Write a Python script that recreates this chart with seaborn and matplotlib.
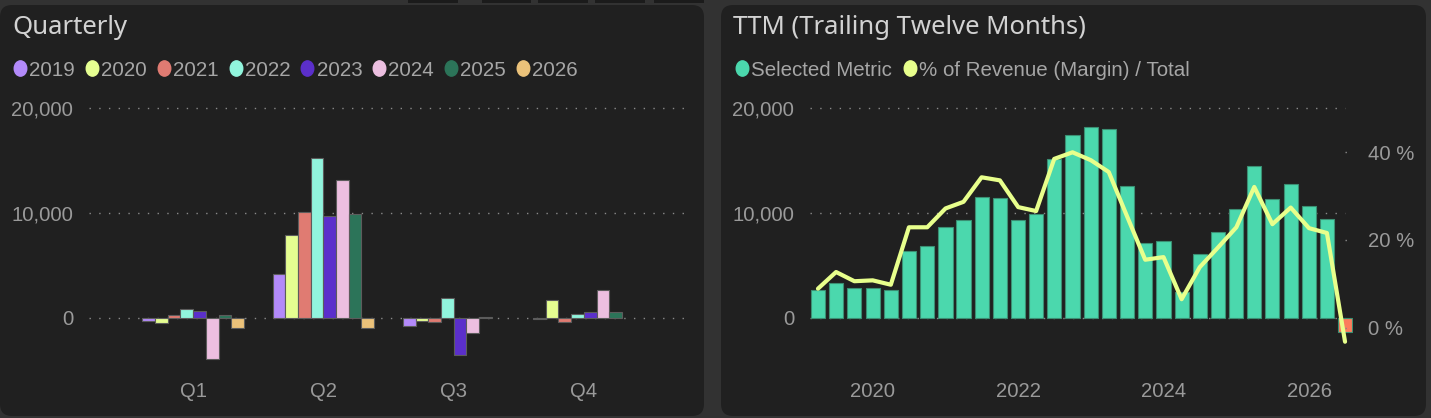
import numpy as np
import pandas as pd
import matplotlib
matplotlib.use("Agg")
import matplotlib.pyplot as plt
import matplotlib.dates as mdates
from matplotlib.patches import FancyBboxPatch, Rectangle
from matplotlib.lines import Line2D
from matplotlib.path import Path
from matplotlib.transforms import Affine2D
import matplotlib.ticker as mticker
import seaborn as sns

# ---------------- data ----------------
quarters = ["Q1", "Q2", "Q3", "Q4"]
years = ["2019", "2020", "2021", "2022", "2023", "2024", "2025", "2026"]
q_2019 = [-280, 4150, -790, -150]
q_2020 = [-480, 7870, -345, 1660]
q_2021 = [230, 10070, -440, -440]
q_2022 = [860, 15225, 1850, 380]
q_2023 = [640, 9740, -3565, 510]
q_2024 = [-3915, 13120, -1490, 2675]
q_2025 = [230, 9935, 60, 545]
q_2026 = [-1010, -955, None, None]
year_colors = ["#b38afa", "#e5fe91", "#e07b72", "#91f5dd",
               "#5b2fcb", "#ecbfe0", "#2c7459", "#ebc27a"]

ttm_dates = ["2019-03-31", "2019-06-30", "2019-09-30", "2019-12-31",
             "2020-03-31", "2020-06-30", "2020-09-30", "2020-12-31",
             "2021-03-31", "2021-06-30", "2021-09-30", "2021-12-31",
             "2022-03-31", "2022-06-30", "2022-09-30", "2022-12-31",
             "2023-03-31", "2023-06-30", "2023-09-30", "2023-12-31",
             "2024-03-31", "2024-06-30", "2024-09-30", "2024-12-31",
             "2025-03-31", "2025-06-30", "2025-09-30", "2025-12-31",
             "2026-03-31", "2026-06-30"]
ttm_values = [2645, 3280, 2870, 2805, 2645, 6370, 6815, 8630, 9300, 11500,
              11400, 9300, 9935, 15130, 17420, 18245, 18020, 12550, 7165, 7295,
              2500, 6085, 8185, 10350, 14460, 11310, 12770, 10670, 9430, -1395]
margin_pct = [8.9, 12.7, 10.6, 10.8, 9.8, 22.9, 22.9, 27.2, 28.7, 34.3,
              33.6, 27.5, 26.6, 38.5, 40.0, 38.2, 35.5, 25.5, 15.5, 16.1,
              6.5, 13.8, 18.3, 22.9, 32.1, 23.6, 27.4, 22.7, 21.6, -3.2]

# ---------------- style ----------------
W, H = 1431, 418
OUTER = "#323232"
PANEL = "#202020"
TITLE_C = "#d2d2d2"
TEXT_C = "#a6a6a6"
TICK_C = "#9a9a9a"
GRID_C = "#8a8a8a"
TICK_FONT = "Liberation Sans"
TITLE_FONT = "Noto Sans"
FS = 14.6
LFS = 14.8

plt.rcParams["font.family"] = [TICK_FONT, "DejaVu Sans"]

fig = plt.figure(figsize=(W / 100, H / 100), dpi=100)
fig.patch.set_facecolor(OUTER)

# panels (inches transform keeps corners round)
for (x0, x1) in [(0, 704), (721, 1426)]:
    y0, y1 = 5, 416
    p = FancyBboxPatch((x0 / 100, (H - y1) / 100), (x1 - x0) / 100, (y1 - y0) / 100,
                       boxstyle="round,pad=0,rounding_size=0.12",
                       transform=fig.dpi_scale_trans, facecolor=PANEL,
                       edgecolor="none", zorder=-10)
    fig.patches.append(p)
for (x0, x1) in [(408, 458), (482, 531), (538, 588), (595, 645), (654, 704)]:
    r = Rectangle((x0 / 100, (H - 3) / 100), (x1 - x0) / 100, 0.03,
                  transform=fig.dpi_scale_trans, facecolor="#1b1b1b",
                  edgecolor="none", zorder=-10)
    fig.patches.append(r)


def px_axes(x0, x1, y0, y1):
    a = fig.add_axes([x0 / W, 1 - y1 / H, (x1 - x0) / W, (y1 - y0) / H])
    a.set_zorder(2)
    return a


def style_ax(ax):
    ax.set_facecolor("none")
    for s in ax.spines.values():
        s.set_visible(False)
    ax.tick_params(length=0, labelsize=FS, labelcolor=TICK_C)
    ax.set_xlabel("")
    ax.set_ylabel("")


grid_ls = (0, (1, 6))
AX_TOP, AX_BOT = 95, 375
Y0PX, PX_PER_10K = 317.7, 104.7
ylo = (Y0PX - AX_BOT) / PX_PER_10K * 10000
yhi = (Y0PX - AX_TOP) / PX_PER_10K * 10000

# ---------------- left: quarterly ----------------
ax1 = px_axes(89, 688, AX_TOP, AX_BOT)
series = [q_2019, q_2020, q_2021, q_2022, q_2023, q_2024, q_2025, q_2026]
rows = []
for yr, vals in zip(years, series):
    for q, v in zip(quarters, vals):
        if v is not None:
            rows.append({"quarter": q, "year": yr, "value": v})
df1 = pd.DataFrame(rows)
for y in [0, 10000, 20000]:
    ax1.axhline(y, color=GRID_C, lw=1.0, ls=grid_ls, zorder=0)
sns.barplot(data=df1, x="quarter", y="value", hue="year", order=quarters,
            hue_order=years, palette=year_colors, width=0.78, errorbar=None,
            saturation=1, edgecolor="#5c5c5c", linewidth=0.8, legend=False,
            ax=ax1, zorder=2)
ax1.set_xlim(-0.8, 3.8)
ax1.set_ylim(ylo, yhi)
ax1.set_yticks([0, 10000, 20000])
ax1.yaxis.set_major_formatter(mticker.FuncFormatter(lambda v, p: f"{v:,.0f}"))
style_ax(ax1)
ax1.tick_params(axis="y", pad=11.5)
ax1.tick_params(axis="x", pad=5)

# ---------------- right: TTM ----------------
RX0, RX1 = 810, 1353
ax = px_axes(RX0, RX1, AX_TOP, AX_BOT)
dnum = mdates.date2num(pd.to_datetime(ttm_dates))
df2 = pd.DataFrame({"x": dnum, "value": ttm_values,
                    "sign": ["pos" if v >= 0 else "neg" for v in ttm_values],
                    "pct": margin_pct})
gx = (1345 - RX0) / (RX1 - RX0)
for y in [0, 10000, 20000]:
    ax.axhline(y, xmin=0, xmax=gx, color=GRID_C, lw=1.0, ls=grid_ls, zorder=0)
sns.barplot(data=df2, x="x", y="value", hue="sign", native_scale=True,
            palette={"pos": "#4bd8ad", "neg": "#fb7d5c"}, dodge=False,
            width=0.79, errorbar=None, saturation=1, edgecolor="#3b8f73",
            linewidth=0.8, legend=False, ax=ax, zorder=2)
ax.set_xlim(dnum[0] - 40, dnum[-1] + 40)
ax.set_ylim(ylo, yhi)
ax.set_yticks([0, 10000, 20000])
ax.yaxis.set_major_formatter(mticker.FuncFormatter(lambda v, p: f"{v:,.0f}"))
ax.xaxis.set_major_locator(mdates.YearLocator(2))
ax.xaxis.set_major_formatter(mdates.DateFormatter("%Y"))
style_ax(ax)
ax.tick_params(axis="y", pad=11.5)
ax.tick_params(axis="x", pad=5)

ax2 = ax.twinx()
ax2.set_zorder(3)
P0PX, PX_PER_PCT = 327.7, 4.385
plo = (P0PX - AX_BOT) / PX_PER_PCT
phi = (P0PX - AX_TOP) / PX_PER_PCT
sns.lineplot(data=df2, x="x", y="pct", color="#e8ff8c", linewidth=3.0,
             ax=ax2, legend=False, solid_joinstyle="round", solid_capstyle="round")
ax2.set_ylim(plo, phi)
ax2.set_yticks([0, 20, 40])
ax2.set_yticklabels(["0 %", "20 %", "40 %"])
for y in [0, 20, 40]:
    ax2.axhline(y, xmin=gx, xmax=1.0, color=GRID_C, lw=1.0, ls=grid_ls, zorder=0)
style_ax(ax2)
ax2.tick_params(axis="y", pad=10.5)
ax.set_xlim(dnum[0] - 40, dnum[-1] + 40)

# ---------------- titles ----------------
fig.text(12 / W, 1 - 27 / H, "Quarterly", va="center", ha="left",
         fontsize=18.5, color=TITLE_C, family=[TITLE_FONT, "DejaVu Sans"])
fig.text(733 / W, 1 - 27 / H, "TTM (Trailing Twelve Months)", va="center",
         ha="left", fontsize=18.5, color=TITLE_C, family=[TITLE_FONT, "DejaVu Sans"])

# ---------------- legends ----------------
ell = Path.unit_circle().transformed(Affine2D().scale(0.82, 1.0))


def handle(c):
    return Line2D([], [], ls="", marker=ell, markersize=11,
                  markerfacecolor=c, markeredgecolor=c)


leg1 = fig.legend([handle(c) for c in year_colors], years, loc="center left",
                  bbox_to_anchor=(12 / W, 1 - 70 / H), ncol=8, frameon=False,
                  handlelength=0.8, handletextpad=0.05, columnspacing=0.42,
                  borderpad=0, borderaxespad=0, fontsize=LFS, labelcolor=TEXT_C)
leg2 = fig.legend([handle("#4bd8ad"), handle("#e8ff8c")],
                  ["Selected Metric", "% of Revenue (Margin) / Total"],
                  loc="center left", bbox_to_anchor=(734 / W, 1 - 70 / H),
                  ncol=2, frameon=False, handlelength=0.8, handletextpad=0.05,
                  columnspacing=0.45, borderpad=0, borderaxespad=0,
                  fontsize=LFS, labelcolor=TEXT_C)

fig.savefig("out.png", dpi=100, facecolor=fig.get_facecolor())
